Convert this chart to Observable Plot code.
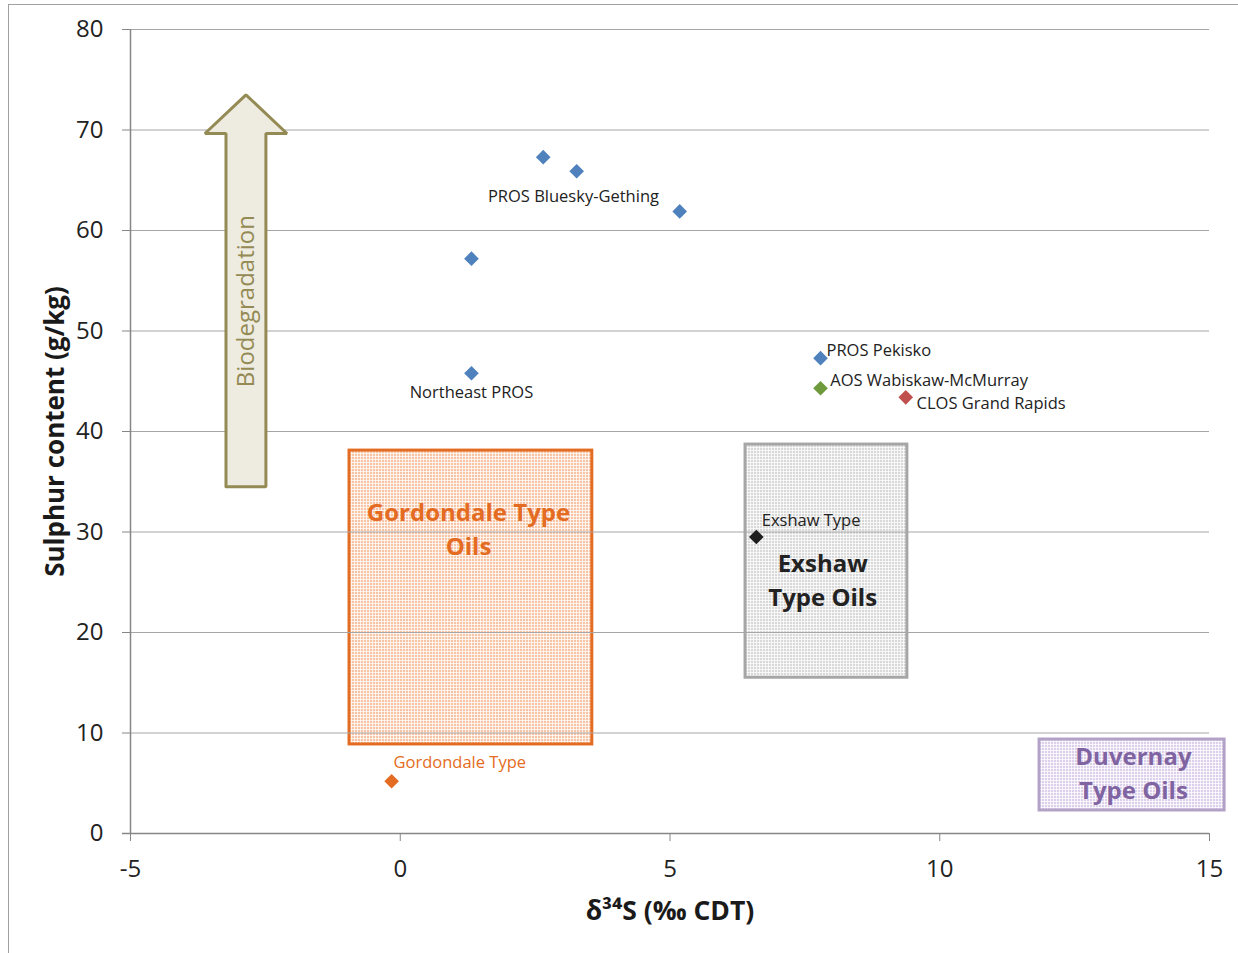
<!DOCTYPE html>
<html><head><meta charset="utf-8">
<script src="https://cdn.jsdelivr.net/npm/d3@7"></script>
<script src="https://cdn.jsdelivr.net/npm/@observablehq/plot@0.6"></script>
<style>
html,body{margin:0;padding:0;background:#fff;}
#wrap{position:relative;width:1238px;height:953px;overflow:hidden;}
#wrap svg{position:absolute;left:0;top:0;}
#frame{position:absolute;left:8px;top:4px;width:1260px;height:980px;border-top:1.5px solid #a0a0a0;border-left:1.5px solid #a0a0a0;pointer-events:none;}
</style></head><body><div id="wrap"><div id="frame"></div></div>
<script>
// ---- data ----
const sampleX = [2.65, 3.27, 5.18, 1.32, 1.32, 7.79, 7.79, 9.37, 6.60, -0.16];
const sampleY = [67.3, 65.9, 61.9, 57.2, 45.8, 47.3, 44.3, 43.4, 29.5, 5.2];
const sampleGroup = ["PROS", "PROS", "PROS", "PROS", "PROS", "PROS", "AOS", "CLOS", "Exshaw", "Gordondale"];
const groupNames = ["PROS", "AOS", "CLOS", "Exshaw", "Gordondale"];
const groupColors = ["#4f81bd", "#6f9a3c", "#c0504d", "#1e1e1e", "#e46c22"];

const labelText = ["PROS Bluesky-Gething", "Northeast PROS", "PROS Pekisko", "AOS Wabiskaw-McMurray", "CLOS Grand Rapids", "Exshaw Type", "Gordondale Type"];
const labelX = [3.21, 1.32, 7.90, 7.97, 9.57, 6.70, -0.125];
const labelY = [63.4, 43.9, 48.0, 45.1, 42.8, 31.1, 7.0];
const labelAlign = ["middle", "middle", "start", "start", "start", "start", "start"];
const labelColor = ["#222", "#222", "#222", "#222", "#222", "#222", "#e46c22"];

const boxName = ["Gordondale Type\nOils", "Exshaw\nType Oils", "Duvernay\nType Oils"];
const boxX1 = [-0.94, 6.40, 11.85];
const boxX2 = [3.56, 9.40, 15.28];
const boxY1 = [8.86, 15.5, 2.29];
const boxY2 = [38.1, 38.7, 9.35];
const boxLabelX = [1.265, 7.83, 13.59];
const boxLabelY = [30.45, 25.37, 6.17];
const boxFill = ["url(#patG)", "url(#patE)", "url(#patD)"];
const boxStroke = ["#e46c22", "#a6a6a6", "#b3a2c7"];
const boxText = ["#e46c22", "#222222", "#8064a2"];

const arrowLabel = "Biodegradation";
const arrowCenterX = -2.86, arrowBaseY = 34.5, arrowNeckY = 69.65, arrowTipY = 73.5;
const arrowShaftHalf = 0.37, arrowHeadHalf = 0.76;

const xTicks = [-5, 0, 5, 10, 15];
const yTicks = [0, 10, 20, 30, 40, 50, 60, 70, 80];
const xTitle = "δ³⁴S (‰ CDT)";
const yTitle = "Sulphur content (g/kg)";
const xTitlePos = {x: 5, y: -7.76};
const yTitlePos = {x: -6.39, y: 40};

// ---- tables ----
const samples = sampleX.map((x, i) => ({x, y: sampleY[i], color: groupColors[groupNames.indexOf(sampleGroup[i])]}));
const labels = labelText.map((t, i) => ({t, x: labelX[i], y: labelY[i], a: labelAlign[i], c: labelColor[i]}));
const boxes = boxName.map((n, i) => ({n, x1: boxX1[i], x2: boxX2[i], y1: boxY1[i], y2: boxY2[i], lx: boxLabelX[i], ly: boxLabelY[i], fill: boxFill[i], stroke: boxStroke[i], tc: boxText[i]}));
const arrow = [
  [arrowCenterX - arrowShaftHalf, arrowBaseY],
  [arrowCenterX - arrowShaftHalf, arrowNeckY],
  [arrowCenterX - arrowHeadHalf, arrowNeckY],
  [arrowCenterX, arrowTipY],
  [arrowCenterX + arrowHeadHalf, arrowNeckY],
  [arrowCenterX + arrowShaftHalf, arrowNeckY],
  [arrowCenterX + arrowShaftHalf, arrowBaseY],
  [arrowCenterX - arrowShaftHalf, arrowBaseY]
].map(([x, y]) => ({x, y}));

const font = "'Open Sans', sans-serif";

const chart = Plot.plot({
  width: 1238, height: 953,
  marginLeft: 130, marginRight: 29, marginTop: 29, marginBottom: 120,
  x: {domain: [-5, 15]},
  y: {domain: [0, 80]},
  color: {type: "identity"},
  style: {fontFamily: font, background: "transparent", overflow: "visible", color: "#222"},
  marks: [
    Plot.rect(boxes, {x1: "x1", x2: "x2", y1: "y1", y2: "y2", fill: "fill", stroke: "stroke", strokeWidth: 3}),
    Plot.gridY(yTicks.filter(d => d > 0), {stroke: "#a6a6a6", strokeOpacity: 1, strokeWidth: 1.2}),
    Plot.ruleX([-5], {stroke: "#868686", strokeWidth: 1.5}),
    Plot.ruleY([0], {x1: -5.15, x2: 15, stroke: "#868686", strokeWidth: 1.5}),
    Plot.axisY(yTicks, {tickSize: 8, tickPadding: 19, fontSize: 24, label: null, stroke: "#868686", fill: "#222", tickFormat: d => String(d)}),
    Plot.axisX(xTicks, {tickSize: 8, tickPadding: 18, fontSize: 24, label: null, stroke: "#868686", fill: "#222", tickFormat: d => String(d)}),
    Plot.line(arrow, {x: "x", y: "y", fill: "#eeece1", stroke: "#948a54", strokeWidth: 3, strokeLinejoin: "miter", curve: "linear"}),
    Plot.text([arrowLabel], {x: arrowCenterX, y: (arrowBaseY + arrowNeckY) / 2 + 0.9, text: d => d, rotate: -90, fontSize: 24, fill: "#948a54"}),
    Plot.text(boxes, {x: "lx", y: "ly", text: "n", fill: "tc", fontSize: 24, fontWeight: "bold", lineHeight: 1.42}),
    Plot.dot(samples, {x: "x", y: "y", fill: "color", symbol: "diamond2", r: 6.6, stroke: null}),
    Plot.text(labels.filter(d => d.a === "middle"), {x: "x", y: "y", text: "t", fill: "c", fontSize: 16.5, textAnchor: "middle"}),
    Plot.text(labels.filter(d => d.a === "start"), {x: "x", y: "y", text: "t", fill: "c", fontSize: 16.5, textAnchor: "start"}),
    Plot.text([yTitle], {x: yTitlePos.x, y: yTitlePos.y, text: d => d, rotate: -90, fontSize: 26, fontWeight: "bold", fill: "#1a1a1a"}),
    Plot.text([xTitle], {x: xTitlePos.x, y: xTitlePos.y, text: d => d, fontSize: 26.5, fontWeight: "bold", fill: "#1a1a1a"})
  ]
});

// fine grid patterns for the boxes
const ns = "http://www.w3.org/2000/svg";
const defs = document.createElementNS(ns, "defs");
[["patG", "#f8c4a6"], ["patE", "#d9d9d9"], ["patD", "#dcd0ea"]].forEach(([id, base]) => {
  const p = document.createElementNS(ns, "pattern");
  p.setAttribute("id", id);
  p.setAttribute("patternUnits", "userSpaceOnUse");
  p.setAttribute("width", 3); p.setAttribute("height", 3);
  const r = document.createElementNS(ns, "rect");
  r.setAttribute("width", 3); r.setAttribute("height", 3); r.setAttribute("fill", base);
  const l = document.createElementNS(ns, "path");
  l.setAttribute("d", "M0,0.5H3M0.5,0V3");
  l.setAttribute("stroke", "#ffffff"); l.setAttribute("stroke-opacity", 0.75); l.setAttribute("stroke-width", 1);
  p.appendChild(r); p.appendChild(l);
  defs.appendChild(p);
});
chart.insertBefore(defs, chart.firstChild);
document.getElementById("wrap").insertBefore(chart, document.getElementById("frame"));
</script>
</body></html>
